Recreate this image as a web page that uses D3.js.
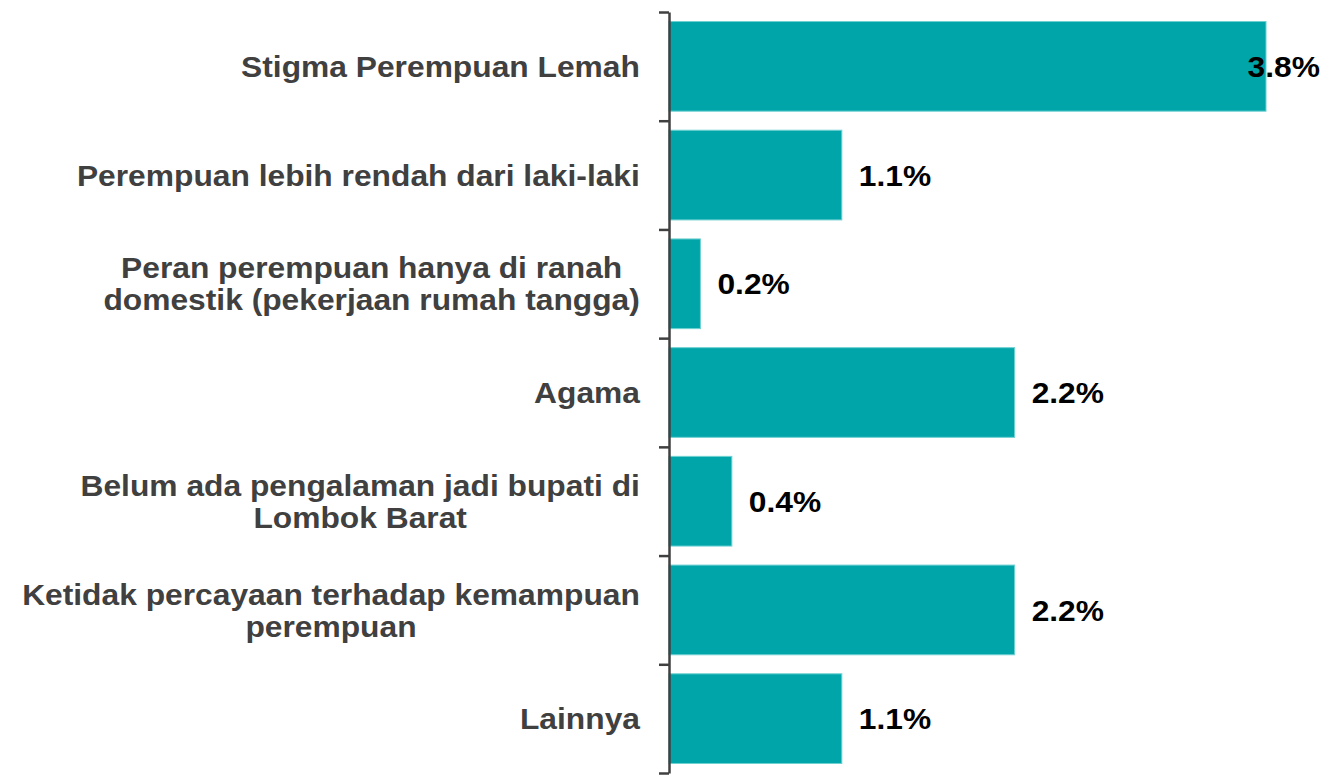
<!DOCTYPE html>
<html lang="en">
<head>
<meta charset="UTF-8">
<title>Alasan</title>
<script src="https://cdnjs.cloudflare.com/ajax/libs/d3/7.8.5/d3.min.js"></script>
<style>
  body { margin: 0; background: #fff; }
  text { font-family: Arial, "Liberation Sans", sans-serif; font-weight: bold; }
</style>
</head>
<body>
<div id="chart"></div>
<script>
// categories (each entry = lines of the label) and values in %
const categories = [
  ["Stigma Perempuan Lemah"],
  ["Perempuan lebih rendah dari laki-laki"],
  ["Peran perempuan hanya di ranah", "domestik (pekerjaan rumah tangga)"],
  ["Agama"],
  ["Belum ada pengalaman jadi bupati di", "Lombok Barat"],
  ["Ketidak percayaan terhadap kemampuan", "perempuan"],
  ["Lainnya"]
];
const values = [3.8, 1.1, 0.2, 2.2, 0.4, 2.2, 1.1];
const valueLabels = ["3.8%", "1.1%", "0.2%", "2.2%", "0.4%", "2.2%", "1.1%"];

const W = 1327, H = 775;
const axisX = 669, yTop = 12, yBottom = 773;
const fs = 29.5, sx = 1.077, lineH = 32;

const svg = d3.select("#chart").append("svg")
  .attr("width", W).attr("height", H);

const keys = categories.map((d, i) => i);
const y = d3.scaleBand().domain(keys).range([yTop, yBottom])
  .paddingInner(0.175).paddingOuter(0.0875);
const x = d3.scaleLinear().domain([0, 3.8]).range([axisX, 1266]);

// bars
svg.selectAll("rect.bar")
  .data(values)
  .enter().append("rect")
  .attr("class", "bar")
  .attr("x", x(0))
  .attr("y", (d, i) => y(i))
  .attr("width", d => x(d) - x(0))
  .attr("height", y.bandwidth())
  .style("fill", "#00A5AA")
  .style("stroke", "#6FD0D2")
  .style("stroke-width", 1);

// axis with ticks at category boundaries
const idx = d3.scaleLinear().domain([0, categories.length]).range([yTop, yBottom]);
const axis = svg.append("g")
  .attr("transform", "translate(" + axisX + ",0)")
  .call(d3.axisLeft(idx).tickValues(d3.range(categories.length + 1))
    .tickFormat("").tickSize(10).tickSizeOuter(0));
axis.selectAll("path, line").style("stroke", "#404040").style("stroke-width", 2.5);

// category labels (multi-line centred, block right aligned)
categories.forEach((lines, i) => {
  const cy = y(i) + y.bandwidth() / 2;
  const g = svg.append("g");
  const texts = lines.map((t, j) => g.append("text")
    .attr("text-anchor", "middle")
    .style("font-size", fs + "px")
    .style("fill", "#404040")
    .text(t));
  const maxW = d3.max(texts, t => t.node().getComputedTextLength()) * sx;
  const cx = 640 - maxW / 2;
  texts.forEach((t, j) => {
    const by = cy + (j - (lines.length - 1) / 2) * lineH + fs * 0.36;
    t.attr("transform", "translate(" + cx + "," + by + ") scale(" + sx + ",1)");
  });
});

// value labels
values.forEach((v, i) => {
  const t = svg.append("text")
    .style("font-size", fs + "px")
    .style("fill", "#000")
    .text(valueLabels[i]);
  const w = t.node().getComputedTextLength() * sx;
  const lx = Math.min(x(v) + 17, W - 7 - w);
  const by = y(i) + y.bandwidth() / 2 + fs * 0.36;
  t.attr("transform", "translate(" + lx + "," + by + ") scale(" + sx + ",1)");
});
</script>
</body>
</html>
